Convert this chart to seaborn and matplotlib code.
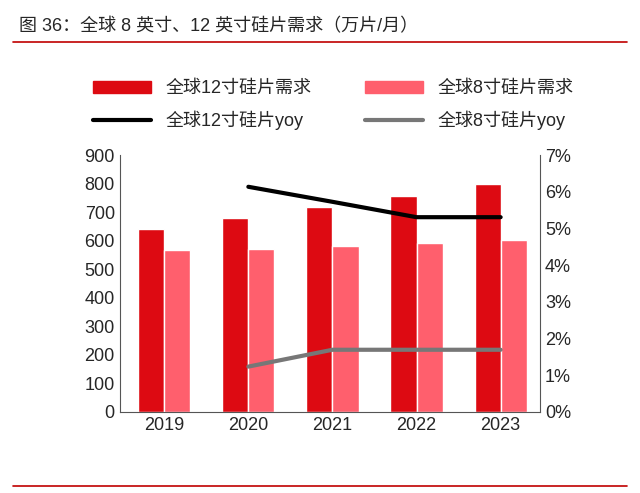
import matplotlib.pyplot as plt
import seaborn as sns
import pandas as pd
from matplotlib.ticker import PercentFormatter
from matplotlib.patches import Patch

years = ["2019", "2020", "2021", "2022", "2023"]
demand_12 = [641, 680, 719, 757, 798]
demand_8 = [566, 572, 582, 592, 602]
yoy_12 = [None, 6.14, 5.73, 5.31, 5.31]
yoy_8 = [None, 1.23, 1.69, 1.69, 1.69]

sns.set_style("white")
plt.rcParams["font.family"] = ["Liberation Sans", "Noto Sans CJK SC", "DejaVu Sans"]

df = pd.DataFrame({"year": years * 2,
                   "val": demand_12 + demand_8,
                   "s": ["全球12寸硅片需求"] * 5 + ["全球8寸硅片需求"] * 5})

fig = plt.figure(figsize=(6.4, 4.93), dpi=100)
ax = fig.add_axes([0.187, 0.165, 0.657, 0.52])
sns.barplot(data=df, x="year", y="val", hue="s", ax=ax,
            palette=["#dd0a12", "#ff5f6d"], width=0.62, saturation=1, legend=False)
ax.set_ylim(0, 900)
ax.set_yticks(range(0, 901, 100))
ax.set_xlabel("")
ax.set_ylabel("")
ax.tick_params(labelsize=13, length=0)
for s in ["top", "right"]:
    ax.spines[s].set_visible(False)
ax.spines["left"].set_color("#555")
ax.spines["bottom"].set_color("#555")
ax.set_xlim(-0.53, 4.47)

ax2 = ax.twinx()
x = list(range(5))
l1, = ax2.plot(x[1:], yoy_12[1:], color="black", lw=3)
l2, = ax2.plot(x[1:], yoy_8[1:], color="#777777", lw=3)
ax2.set_ylim(0, 7)
ax2.set_yticks(range(0, 8))
ax2.yaxis.set_major_formatter(PercentFormatter(decimals=0))
ax2.tick_params(labelsize=13, length=0)
for s in ["top", "left", "bottom"]:
    ax2.spines[s].set_visible(False)
ax2.spines["right"].set_color("#555")

handles = [Patch(color="#dd0a12"), l1, Patch(color="#ff5f6d"), l2]
labels = ["全球12寸硅片需求", "全球12寸硅片yoy", "全球8寸硅片需求", "全球8寸硅片yoy"]
fig.legend(handles, labels, ncol=2, loc="upper left", bbox_to_anchor=(0.12, 0.87),
           frameon=False, fontsize=13, handlelength=3.2, columnspacing=3.0,
           labelspacing=0.75)

fig.text(0.03, 0.945, "图 36：全球 8 英寸、12 英寸硅片需求（万片/月）", fontsize=13, va="center")
fig.add_artist(plt.Line2D([0.02, 0.98], [0.915, 0.915], color="#c00000", lw=1.2))
fig.add_artist(plt.Line2D([0.02, 0.98], [0.015, 0.015], color="#c00000", lw=1.2))
fig.savefig("out.png", dpi=100)
